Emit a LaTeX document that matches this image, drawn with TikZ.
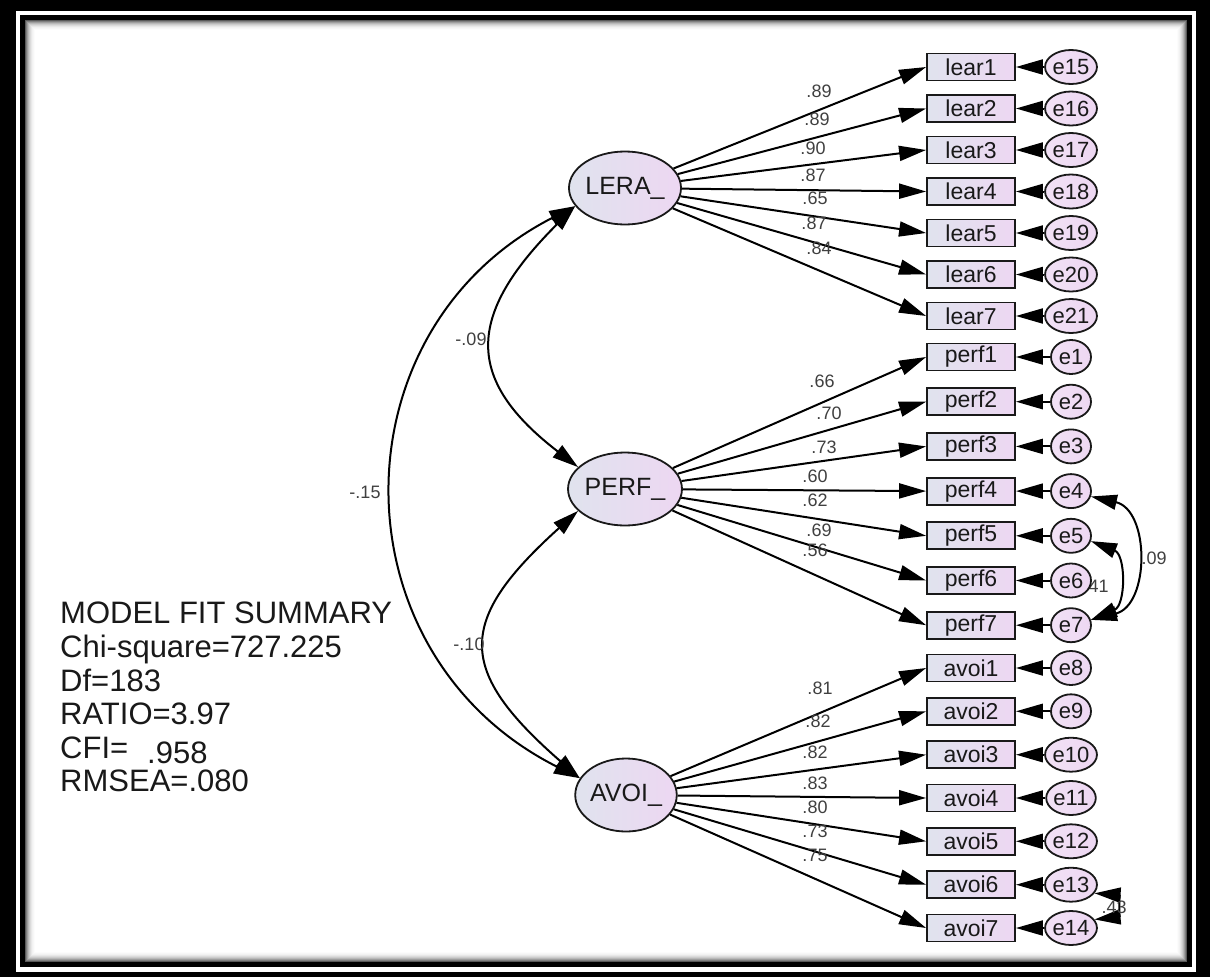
\documentclass[tikz,border=0pt]{standalone}
\usepackage{fontspec}
\setmainfont{Liberation Sans}
\usetikzlibrary{arrows.meta,shapes.geometric}
\pgfdeclarelayer{background}
\pgfsetlayers{background,main}
\definecolor{fillL}{RGB}{224,227,238}
\definecolor{fillR}{RGB}{237,215,242}
\begin{document}
\begin{tikzpicture}[x=1pt,y=-1pt,
  obs/.style={draw=black!90, line width=1.8pt, rectangle, minimum width=88pt, minimum height=27pt, inner sep=0pt, left color=fillL, right color=fillR, text=black!90, font=\fontsize{23}{23}\selectfont},
  lat/.style={draw=black!90, line width=1.8pt, ellipse, minimum width=95pt, minimum height=73pt, inner sep=0pt, left color=fillL, right color=fillR, text=black!90, font=\fontsize{25}{25}\selectfont},
  err/.style={draw=black!90, line width=1.8pt, ellipse, minimum width=40pt, minimum height=34pt, inner sep=0pt, left color=fillR!75!white, right color=fillR, text=black!90, font=\fontsize{22}{22}\selectfont},
  ld/.style={font=\fontsize{18}{18}\selectfont, text=black!75, inner sep=0pt},
  load/.style={line width=2pt, -{Triangle[length=27pt,width=15pt]}},
  cov/.style={line width=2pt, {Triangle[length=26pt,width=15pt]}-{Triangle[length=26pt,width=15pt]}},
]
\useasboundingbox (0,0) rectangle (1210,977);
% frame
\begin{pgfonlayer}{background}
\fill[black] (0,0) rectangle (1210,977);
\fill[white] (16,11) rectangle (1196,972);
\fill[black] (20,15) rectangle (1192,967);
\fill[white] (25,20) rectangle (1187,962);
\foreach \i/\c in {0/65,1/50,2/38,3/28,4/20,5/14,6/9,7/5,8/3,9/1}
  \draw[black!\c, line width=1pt] ({25.5+\i},{20.5+\i}) rectangle ({1186.5-\i},{961.5-\i});
\end{pgfonlayer}

% latent variables
\node[lat] (LERA) at (625,188) {LERA\_};
\node[lat] (PERF) at (625,489) {PERF\_};
\node[lat] (AVOI) at (626,795) {AVOI\_};

% indicators and errors
\foreach \i/\y/\e in {1/67/15,2/108.5/16,3/150/17,4/191.5/18,5/233/19,6/274.5/20,7/316/21}{
  \node[obs] (lear\i) at (971,\y) {lear\i};
  \node[err] (e\e) at (1071,\y) {e\e};
  \draw[load] (LERA) -- (lear\i.west);
  \draw[load] (e\e) -- (lear\i.east);
}
\foreach \i/\y/\e in {1/357/1,2/401.7/2,3/446.4/3,4/491.1/4,5/535.8/5,6/580.5/6,7/625.2/7}{
  \node[obs] (perf\i) at (971,\y) {perf\i};
  \node[err] (e\e) at (1071,\y) {e\e};
  \draw[load] (PERF) -- (perf\i.west);
  \draw[load] (e\e) -- (perf\i.east);
}
\foreach \i/\y/\e in {1/668/8,2/711.3/9,3/754.7/10,4/798/11,5/841.3/12,6/884.7/13,7/928/14}{
  \node[obs] (avoi\i) at (971,\y) {avoi\i};
  \node[err] (e\e) at (1071,\y) {e\e};
  \draw[load] (AVOI) -- (avoi\i.west);
  \draw[load] (e\e) -- (avoi\i.east);
}

% loading labels
\foreach \t/\x/\y [count=\k] in {.89/819/91,.89/817/119,.90/813/148,.87/813/175,.65/815/198,.87/814/223,.84/819/248,
  .66/822/381,.70/829/413,.73/824/447,.60/815/476,.62/815/500,.69/819/530,.56/815/550,
  .81/820/688,.82/818/721,.82/815/752,.83/815/783,.80/815/807,.73/815/831,.75/815/855}
  \node[ld] (l\k) at (\x,\y) {\t};

% factor covariances
\draw[cov] (LERA.200) .. controls (465,316) and (465,380) .. (PERF.155);
\draw[cov] (PERF.205) .. controls (456,621) and (456,670) .. (AVOI.160);
\draw[cov] (LERA.200) .. controls (333,330) and (333,654) .. (AVOI.160);
\node[ld] (c1) at (471,339) {-.09};
\node[ld] (c2) at (469,644) {-.10};
\node[ld] (c3) at (365,492) {-.15};

% error covariances
\draw[cov] (e4.-15) .. controls (1150,510) and (1150,605) .. (e7.15);
\draw[cov] (e5.-15) .. controls (1126,555) and (1126,605) .. (e7.15);
\draw[cov] (e13.-20) .. controls (1119,895) and (1119,917) .. (e14.20);
\node[ld] (r1) at (1154,558) {.09};
\begin{pgfonlayer}{background}
\node[ld] (r2) at (1096,586) {.41};
\end{pgfonlayer}
\node[ld] (r3) at (1114,907) {.43};

% fit summary
\node[anchor=north west, align=left, inner sep=0pt, text=black!90, font=\fontsize{31}{33.6}\selectfont] (fit) at (60,602)
  {MODEL FIT SUMMARY\\Chi-square=727.225\\Df=183\\RATIO=3.97\\CFI=\hspace{19pt}\raisebox{-5pt}{.958}\\RMSEA=.080};
\end{tikzpicture}
\end{document}
